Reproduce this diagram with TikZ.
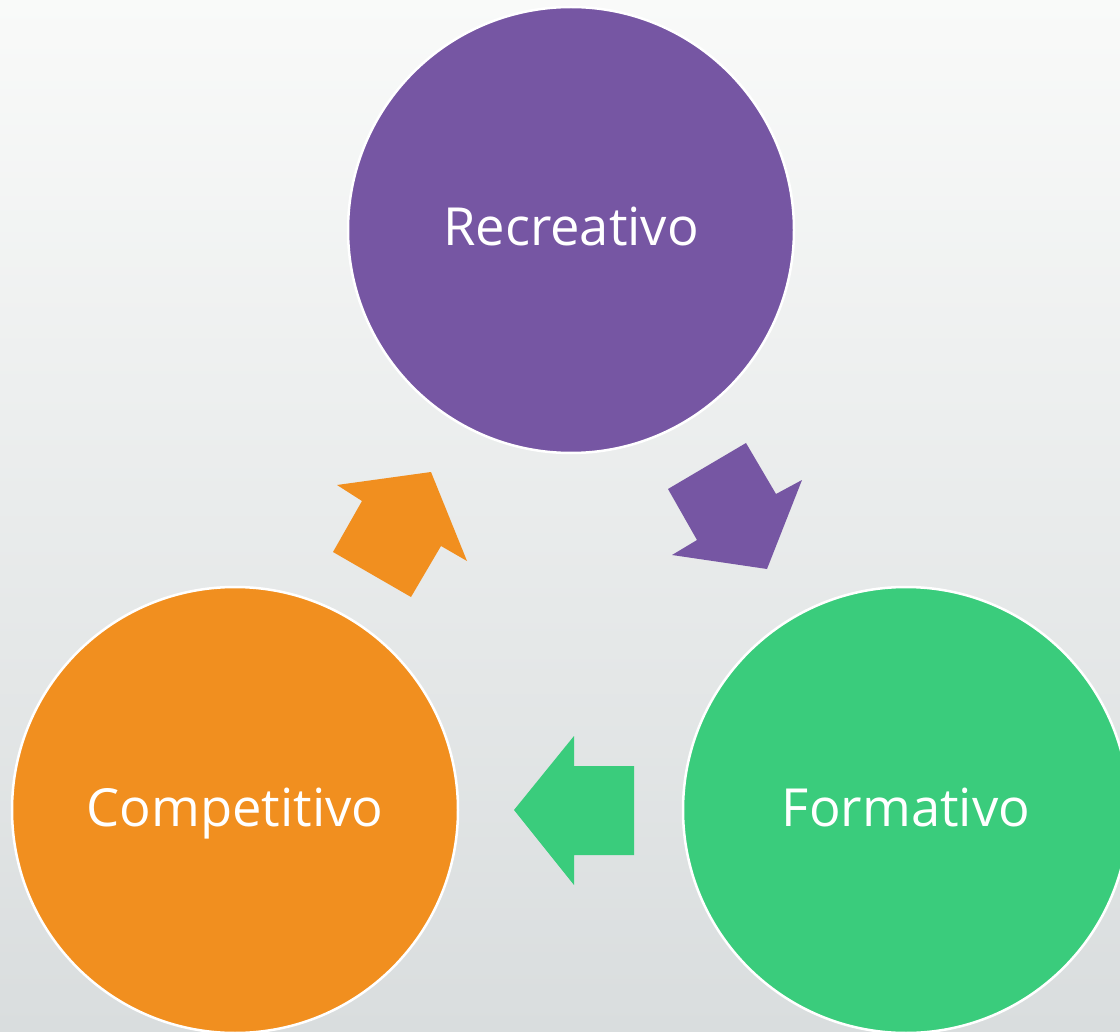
\documentclass[tikz,border=0pt]{standalone}
\usepackage{fontspec}
\setmainfont{Open Sans}
\definecolor{cpurple}{RGB}{118,86,163}
\definecolor{corange}{RGB}{241,143,31}
\definecolor{cgreen}{RGB}{58,204,124}
\definecolor{bgtop}{RGB}{249,250,249}
\definecolor{bgbot}{RGB}{217,221,222}
\begin{document}
\begin{tikzpicture}[x=1pt,y=-1pt,
  bubble/.style={circle,minimum size=446pt,inner sep=0pt,draw=white,line width=2.5pt},
  label/.style={text=white,font=\fontsize{52.5}{60}\selectfont,anchor=base,inner sep=0pt}]
\useasboundingbox (0,0) rectangle (1120,1032);
\clip (0,0) rectangle (1120,1032);
\shade[top color=bgtop,bottom color=bgbot] (0,0) rectangle (1120,1032);
\node[bubble,fill=cpurple] (rec) at (571,230) {};
\node[bubble,fill=corange] (com) at (235,810) {};
\node[bubble,fill=cgreen] (for) at (906,810) {};
\node[label] (trec) at (571,246) {Recreativo};
\node[label] (tcom) at (235,826) {Competitivo};
\node[label] (tfor) at (906,826) {Formativo};
% arrows
\fill[cpurple] (668,489) -- (746,443) -- (776,494) -- (802,480) -- (767,569) -- (672,555) -- (697,540) -- cycle;
\fill[cgreen] (514,810) -- (574,736) -- (574,766) -- (634,766) -- (634,855) -- (574,855) -- (574,885) -- cycle;
\fill[corange] (337,485) -- (431,472) -- (467,561) -- (441,546) -- (411,597) -- (333,552) -- (362,501) -- cycle;
\end{tikzpicture}
\end{document}
